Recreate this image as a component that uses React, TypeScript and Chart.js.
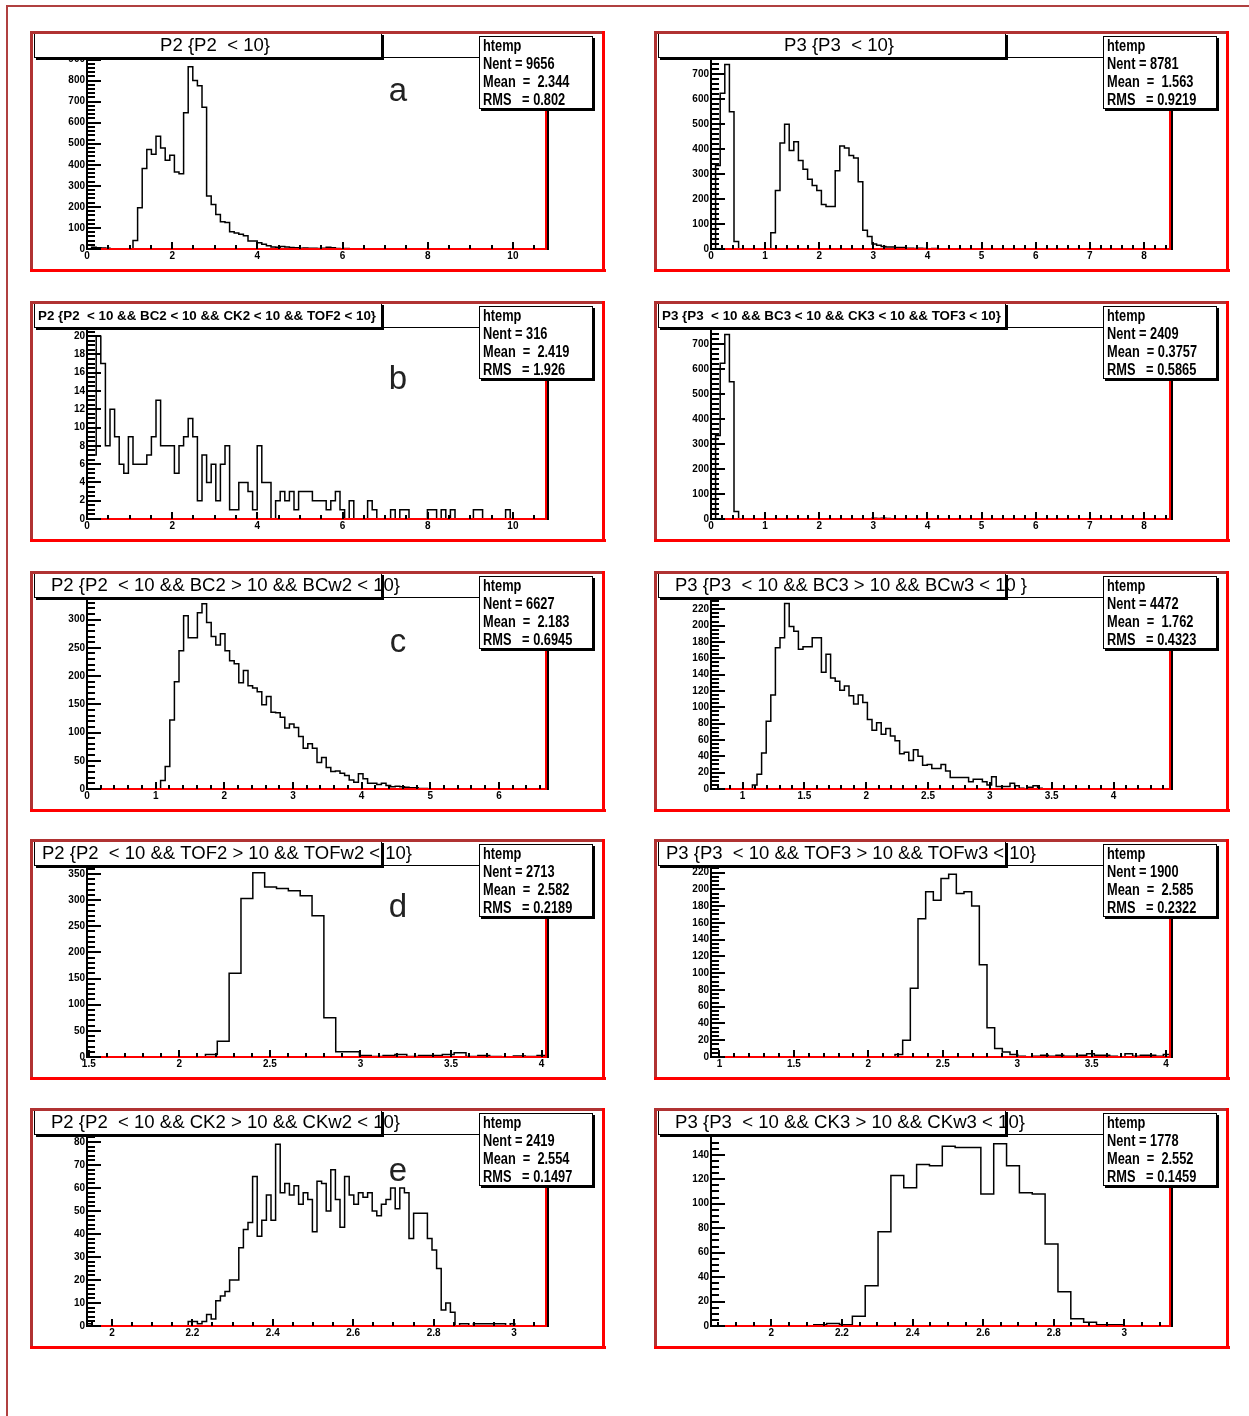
import React, { useEffect, useRef } from "react";
import { Chart, registerables } from "chart.js";
Chart.register(...registerables);

// ---------------- data (bin contents) ----------------
// a) P2 {P2 < 10}: 100 bins from 0, width 0.108
const countsP2all = [
  0, 8, 6, 5, 3, 0, 0, 0, 0, 0,
  40, 196, 382, 473, 450, 535, 480, 421, 445, 366,
  358, 647, 866, 800, 776, 673, 252, 211, 164, 129,
  126, 82, 76, 70, 63, 38, 38, 30, 22, 16,
  10, 8, 12, 9, 7, 6, 4, 5, 3, 3,
  2, 3, 8, 6, 2, 1, 2, 1, 1, 0,
  1, 0, 0, 0, 0, 0, 0, 0, 0, 0,
];
// a) P3 {P3 < 10}: width 0.085
const countsP3all = [
  0, 335, 625, 740, 550, 30, 0, 0, 0, 0,
  0, 0, 0, 65, 235, 425, 500, 395, 430, 355,
  320, 280, 255, 235, 178, 170, 170, 314, 413, 405,
  375, 365, 270, 75, 50, 20, 15, 10, 8, 8,
  6, 6, 3, 3, 2, 3, 2, 1, 2, 1,
  1, 0, 1, 0, 0, 0, 0, 0, 0, 0,
];
// b) P2 all cuts < 10: width 0.108
const countsP2cuts = [
  7, 7, 20, 17, 8, 12, 9, 6, 5, 9,
  6, 6, 6, 7, 9, 13, 8, 8, 8, 5,
  8, 9, 11, 9, 2, 7, 4, 6, 2, 6,
  8, 1, 1, 4, 4, 3, 1, 8, 4, 4,
  0, 2, 3, 2, 3, 1, 3, 3, 3, 2,
  2, 2, 1, 2, 3, 1, 0, 2, 0, 0,
  0, 2, 1, 0, 0, 0, 1, 0, 1, 1,
  0, 0, 0, 0, 1, 1, 0, 1, 0, 1,
  0, 0, 0, 0, 1, 1, 0, 0, 0, 0,
  0, 1, 0, 0, 0, 0, 0, 0, 0, 0,
];
// b) P3 all cuts < 10: width 0.085
const countsP3cuts = [
  0, 335, 625, 740, 550, 30, 0, 0, 0, 0,
  0, 0, 0, 0, 0, 0, 0, 0, 0, 0,
  0, 0, 0, 0, 0, 0, 0, 0, 0, 0,
  0, 0, 0, 0, 0, 3, 2, 3, 2, 1,
];
// c) P2 BC2 > 10: width 0.067
const countsP2bc = [
  0, 0, 0, 0, 0, 0, 0, 0, 0, 0,
  0, 0, 0, 0, 0, 0, 15, 40, 122, 190,
  245, 307, 268, 268, 312, 328, 295, 270, 255, 275,
  245, 227, 222, 188, 210, 183, 179, 172, 149, 164,
  136, 135, 127, 108, 115, 109, 93, 72, 80, 72,
  47, 56, 38, 31, 32, 28, 24, 16, 12, 27,
  18, 10, 10, 8, 10, 6, 4, 5, 4, 3,
  2, 2, 1, 1, 0, 0, 0, 0, 0, 0,
];
// c) P3 BC3 > 10: start 0.745, width 0.0372
const countsP3bc = [
  0, 0, 0, 0, 0, 0, 0, 0, 0, 5,
  18, 44, 83, 115, 173, 185, 227, 199, 193, 171,
  174, 174, 185, 185, 143, 165, 136, 132, 121, 126,
  114, 104, 115, 106, 85, 72, 81, 67, 74, 65,
  59, 43, 45, 35, 48, 40, 29, 30, 25, 25,
  30, 22, 14, 14, 14, 14, 9, 12, 12, 9,
  5, 15, 3, 3, 3, 7, 4, 1, 0, 2,
  4, 1, 0, 0, 0, 0, 0, 0, 0, 0,
];
// d) P2 TOF2 > 10: start 1.49, width 0.0654
const countsP2tof = [
  0, 0, 0, 0, 0, 0, 0, 0, 0, 0,
  5, 30, 160, 303, 352, 325, 322, 318, 308, 270,
  75, 10, 10, 3, 1, 3, 5, 1, 3, 3,
  5, 8, 1, 3, 1, 0, 2, 1, 3,
];
// d) P3 TOF3 > 10: start 0.943, width 0.0515
const countsP3tof = [
  0, 0, 0, 0, 0, 0, 0, 0, 0, 0,
  0, 0, 0, 0, 0, 0, 0, 0, 0, 0,
  0, 0, 0, 0, 3, 20, 82, 165, 197, 187,
  213, 218, 195, 197, 180, 110, 35, 10, 6, 3,
  1, 0, 1, 2, 1, 2, 1, 1, 2, 4,
  2, 2, 1, 0, 4, 1, 2, 2, 1, 3,
];
// e) P2 CK2 > 10: start 1.938, width 0.01144
const countsP2ck = [
  1, 0, 0, 0, 0, 0, 0, 0, 0, 0,
  0, 0, 0, 0, 0, 0, 0, 0, 0, 0,
  0, 0, 2, 2, 1, 2, 5, 3, 11, 13,
  15, 20, 20, 34, 42, 45, 65, 39, 46, 57,
  46, 79, 58, 62, 57, 61, 53, 58, 55, 41,
  63, 62, 50, 68, 55, 43, 65, 57, 53, 58,
  56, 58, 50, 48, 53, 55, 60, 51, 60, 58,
  38, 49, 49, 49, 38, 33, 25, 7, 10, 6,
  0, 1, 1, 0, 1, 1, 1, 1, 1, 1,
  1, 0, 1, 0, 0, 0, 0, 0, 0, 0,
];
// e) P3 CK3 > 10: start 1.829, width 0.0364
const countsP3ck = [
  0, 0, 0, 0, 0, 0, 0, 0, 1, 2,
  1, 8, 33, 77, 123, 113, 132, 131, 147, 146,
  146, 108, 149, 131, 109, 108, 67, 28, 6, 3,
  1, 1, 0, 0, 0, 0,
];

const titles = [
  "P2 {P2  < 10}",
  "P3 {P3  < 10}",
  "P2 {P2  < 10 && BC2 < 10 && CK2 < 10 && TOF2 < 10}",
  "P3 {P3  < 10 && BC3 < 10 && CK3 < 10 && TOF3 < 10}",
  "P2 {P2  < 10 && BC2 > 10 && BCw2 < 10}",
  "P3 {P3  < 10 && BC3 > 10 && BCw3 < 10 }",
  "P2 {P2  < 10 && TOF2 > 10 && TOFw2 < 10}",
  "P3 {P3  < 10 && TOF3 > 10 && TOFw3 < 10}",
  "P2 {P2  < 10 && CK2 > 10 && CKw2 < 10}",
  "P3 {P3  < 10 && CK3 > 10 && CKw3 < 10}",
];

const statsNent = ["9656", "8781", "316", "2409", "6627", "4472", "2713", "1900", "2419", "1778"];
const statsMean = ["2.344", "1.563", "2.419", "0.3757", "2.183", "1.762", "2.582", "2.585", "2.554", "2.552"];
const statsRms = ["0.802", "0.9219", "1.926", "0.5865", "0.6945", "0.4323", "0.2189", "0.2322", "0.1497", "0.1459"];
const letters = ["a", "", "b", "", "c", "", "d", "", "e", ""];

// ---------------- layout / style ----------------
const W = 576;
const H = 242;
const PLOT = { left: 57, right: 517, top: 26, bottom: 218 };
const COL_X = [30, 654];
const ROW_Y = [31, 301, 571, 839, 1108];
const LETTER_BASE = [70, 88, 81, 78, 73];

const SANS = '"Liberation Sans", Arial, Helvetica, sans-serif';

type Cfg = {
  counts: number[];
  start: number;
  width: number;
  xMin: number;
  xMax: number;
  xStep: number;
  xMinor: number;
  yMax: number;
  yStep: number;
  yMinor: number;
  titleX: number;
  titleW: number;
  titleFont: string;
};

const cfgs: Cfg[] = [
  { counts: countsP2all, start: 0, width: 0.108, xMin: 0, xMax: 10.8, xStep: 2, xMinor: 0.5, yMax: 912, yStep: 100, yMinor: 20, titleX: 130, titleW: 110, titleFont: "19px" },
  { counts: countsP3all, start: 0, width: 0.085, xMin: 0, xMax: 8.5, xStep: 1, xMinor: 0.2, yMax: 770, yStep: 100, yMinor: 20, titleX: 130, titleW: 110, titleFont: "19px" },
  { counts: countsP2cuts, start: 0, width: 0.108, xMin: 0, xMax: 10.8, xStep: 2, xMinor: 0.5, yMax: 21, yStep: 2, yMinor: 0.5, titleX: 8, titleW: 338, titleFont: "bold 13px" },
  { counts: countsP3cuts, start: 0, width: 0.085, xMin: 0, xMax: 8.5, xStep: 1, xMinor: 0.2, yMax: 770, yStep: 100, yMinor: 20, titleX: 8, titleW: 339, titleFont: "bold 13px" },
  { counts: countsP2bc, start: 0, width: 0.067, xMin: 0, xMax: 6.7, xStep: 1, xMinor: 0.2, yMax: 340, yStep: 50, yMinor: 10, titleX: 21, titleW: 349, titleFont: "19px" },
  { counts: countsP3bc, start: 0.745, width: 0.0372, xMin: 0.745, xMax: 4.465, xStep: 0.5, xMinor: 0.1, yMax: 235, yStep: 20, yMinor: 5, titleX: 21, titleW: 352, titleFont: "19px" },
  { counts: countsP2tof, start: 1.49, width: 0.0654, xMin: 1.49, xMax: 4.03, xStep: 0.5, xMinor: 0.1, yMax: 367, yStep: 50, yMinor: 10, titleX: 12, titleW: 370, titleFont: "19px" },
  { counts: countsP3tof, start: 0.943, width: 0.0515, xMin: 0.943, xMax: 4.033, xStep: 0.5, xMinor: 0.1, yMax: 229, yStep: 20, yMinor: 5, titleX: 12, titleW: 370, titleFont: "19px" },
  { counts: countsP2ck, start: 1.938, width: 0.01144, xMin: 1.938, xMax: 3.082, xStep: 0.2, xMinor: 0.05, yMax: 83.5, yStep: 10, yMinor: 2, titleX: 21, titleW: 349, titleFont: "19px" },
  { counts: countsP3ck, start: 1.829, width: 0.0364, xMin: 1.829, xMax: 3.132, xStep: 0.2, xMinor: 0.05, yMax: 157, yStep: 20, yMinor: 5, titleX: 21, titleW: 350, titleFont: "19px" },
];

function fmt(v: number): string {
  const n = Math.round(v * 1000) / 1000;
  return String(n);
}

function histPoints(c: Cfg) {
  const pts: { x: number; y: number }[] = [];
  const n = c.counts.length;
  pts.push({ x: c.start, y: 0 });
  for (let i = 0; i < n; i++) {
    const x0 = c.start + i * c.width;
    const x1 = c.start + (i + 1) * c.width;
    pts.push({ x: x0, y: c.counts[i] });
    pts.push({ x: x1, y: c.counts[i] });
  }
  pts.push({ x: c.start + n * c.width, y: 0 });
  return pts;
}

function fitText(ctx: CanvasRenderingContext2D, text: string, x: number, y: number, font: string, targetW: number) {
  ctx.save();
  ctx.font = font;
  ctx.textAlign = "left";
  ctx.textBaseline = "middle";
  const w = ctx.measureText(text).width;
  ctx.translate(x, y);
  ctx.scale(targetW / w, 1);
  ctx.fillText(text, 0, 0);
  ctx.restore();
}

function scaledText(ctx: CanvasRenderingContext2D, text: string, x: number, y: number, font: string, sx: number) {
  ctx.save();
  ctx.font = font;
  ctx.textAlign = "left";
  ctx.textBaseline = "middle";
  ctx.translate(x, y);
  ctx.scale(sx, 1);
  ctx.fillText(text, 0, 0);
  ctx.restore();
}

function makePlugin(idx: number) {
  const c = cfgs[idx];
  const row = Math.floor(idx / 2);
  return {
    id: "rootStyle" + idx,
    beforeDraw(chart: any) {
      const ctx: CanvasRenderingContext2D = chart.ctx;
      ctx.save();
      ctx.fillStyle = "#ffffff";
      ctx.fillRect(0, 0, chart.width, chart.height);
      ctx.restore();
    },
    afterDatasetsDraw(chart: any) {
      const ctx: CanvasRenderingContext2D = chart.ctx;
      const { left, right, top, bottom } = chart.chartArea;
      const xs = chart.scales.x;
      const ys = chart.scales.y;
      ctx.save();
      // frame
      ctx.fillStyle = "#ff0000";
      ctx.fillRect(left, bottom - 1, right - left + 1, 2);
      ctx.fillRect(right - 2, top, 2, bottom - top);
      ctx.fillStyle = "#000000";
      ctx.fillRect(right, top, 2, bottom - top + 1);
      ctx.fillRect(left, top, right - left, 1);
      ctx.fillRect(left - 1, top, 2, bottom - top + 1);
      // y ticks
      const eps = 1e-6;
      for (let k = 0; k * c.yMinor <= c.yMax + eps; k++) {
        const v = k * c.yMinor;
        const py = Math.round(ys.getPixelForValue(v));
        const major = Math.abs(v / c.yStep - Math.round(v / c.yStep)) < 1e-6;
        const len = major ? 14 : 8;
        ctx.fillRect(left, py - 1, len, 2);
      }
      // x ticks
      const k0 = Math.ceil(c.xMin / c.xMinor - eps);
      const k1 = Math.floor(c.xMax / c.xMinor + eps);
      for (let k = k0; k <= k1; k++) {
        const v = k * c.xMinor;
        const px = Math.round(xs.getPixelForValue(v));
        const major = Math.abs(v / c.xStep - Math.round(v / c.xStep)) < 1e-6;
        const len = major ? 7 : 4;
        ctx.fillRect(px - 1, bottom - len, 2, len);
      }
      ctx.restore();
    },
    afterDraw(chart: any) {
      const ctx: CanvasRenderingContext2D = chart.ctx;
      ctx.save();
      // title box
      const bx = 4, by = 2, bw = 347, bh = 24;
      ctx.fillStyle = "#ffffff";
      ctx.fillRect(bx, by, bw, bh);
      ctx.fillStyle = "#000000";
      fitText(ctx, titles[idx], c.titleX, by + bh / 2 + 1, c.titleFont + " " + SANS, c.titleW);
      ctx.fillStyle = "#000000";
      ctx.lineWidth = 1;
      ctx.strokeStyle = "#000000";
      ctx.strokeRect(bx + 0.5, by + 0.5, bw, bh);
      ctx.fillRect(bx + bw, by + 2, 3, bh + 1);
      ctx.fillRect(bx + 2, by + bh, bw + 1, 3);

      // stats box
      const sx = 449, sy = 5, sw = 113, sh = 72;
      ctx.fillStyle = "#ffffff";
      ctx.fillRect(sx, sy, sw, sh);
      ctx.strokeRect(sx + 0.5, sy + 0.5, sw, sh);
      ctx.fillStyle = "#000000";
      ctx.fillRect(sx + sw, sy + 2, 3, sh + 1);
      ctx.fillRect(sx + 2, sy + sh, sw + 1, 3);
      const sf = "bold 16px " + SANS;
      scaledText(ctx, "htemp", 453, sy + 11, sf, 0.8);
      scaledText(ctx, "Nent = " + statsNent[idx], 453, sy + 29, sf, 0.8);
      const meanTxt = statsMean[idx].length > 5 ? "Mean  = " + statsMean[idx] : "Mean  =  " + statsMean[idx];
      scaledText(ctx, meanTxt, 453, sy + 47, sf, 0.8);
      scaledText(ctx, "RMS   = " + statsRms[idx], 453, sy + 65, sf, 0.8);

      // letter
      if (letters[idx]) {
        ctx.fillStyle = "#222222";
        ctx.font = "33px " + SANS;
        ctx.textAlign = "center";
        ctx.textBaseline = "alphabetic";
        ctx.fillText(letters[idx], 368, LETTER_BASE[row]);
      }

      // pad border (bevel)
      ctx.fillStyle = "#ff0000";
      ctx.fillRect(0, H - 4, W, 3);
      ctx.fillRect(W - 4, 0, 3, H - 1);
      ctx.fillStyle = "#b03232";
      ctx.fillRect(0, 0, W - 4, 3);
      ctx.fillRect(0, 0, 3, H - 4);
      ctx.restore();
    },
  };
}

function HistPanel({ idx }: { idx: number }) {
  const ref = useRef<HTMLCanvasElement>(null);
  useEffect(() => {
    const c = cfgs[idx];
    const tickFont = { family: SANS, size: 10, weight: "bold" as const };
    const chart = new Chart(ref.current as HTMLCanvasElement, {
      type: "line",
      data: {
        datasets: [
          {
            data: histPoints(c),
            borderColor: "#000000",
            borderWidth: 1.5,
            pointRadius: 0,
            fill: false,
            tension: 0,
          },
        ],
      },
      options: {
        animation: false,
        responsive: false,
        maintainAspectRatio: false,
        devicePixelRatio: 1,
        events: [],
        layout: { padding: { left: 0, top: PLOT.top, right: W - PLOT.right, bottom: 0 } },
        plugins: { legend: { display: false }, tooltip: { enabled: false }, title: { display: false } },
        scales: {
          x: {
            type: "linear",
            min: c.xMin,
            max: c.xMax,
            afterFit: (s: any) => {
              s.height = H - PLOT.bottom;
            },
            ticks: {
              stepSize: c.xStep,
              autoSkip: false,
              maxRotation: 0,
              minRotation: 0,
              includeBounds: false,
              padding: 1,
              color: "#000000",
              font: tickFont,
              callback: (v: any) => fmt(Number(v)),
            },
            grid: { display: false, drawTicks: false },
            border: { display: false },
          },
          y: {
            type: "linear",
            min: 0,
            max: c.yMax,
            afterFit: (s: any) => {
              s.width = PLOT.left;
            },
            ticks: {
              stepSize: c.yStep,
              includeBounds: false,
              autoSkip: false,
              padding: 2,
              color: "#000000",
              font: tickFont,
              callback: (v: any) => fmt(Number(v)),
            },
            grid: { display: false, drawTicks: false },
            border: { display: false },
          },
        },
      },
      plugins: [makePlugin(idx)],
    } as any);
    return () => chart.destroy();
  }, [idx]);
  const col = idx % 2;
  const row = Math.floor(idx / 2);
  return (
    <canvas
      ref={ref}
      width={W}
      height={H}
      style={{ position: "absolute", left: COL_X[col], top: ROW_Y[row], width: W, height: H }}
    />
  );
}

export default function App() {
  return (
    <div style={{ position: "absolute", left: 0, top: 0, width: 1249, height: 1416, background: "#ffffff", overflow: "hidden" }}>
      <div style={{ position: "absolute", left: 6, top: 5, width: 1243, height: 2, background: "#b04040" }} />
      <div style={{ position: "absolute", left: 6, top: 5, width: 2, height: 1411, background: "#b04040" }} />
      {cfgs.map((_, i) => (
        <HistPanel key={i} idx={i} />
      ))}
    </div>
  );
}
